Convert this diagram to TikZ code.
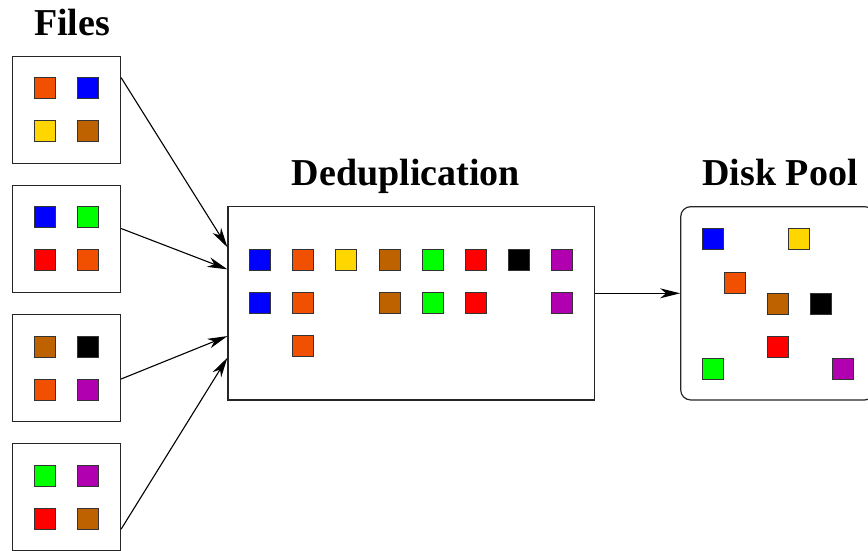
\documentclass[tikz,border=0pt]{standalone}
\usepackage{fontspec}
\setmainfont{Liberation Serif}
\usetikzlibrary{arrows.meta,positioning}

\definecolor{dorange}{RGB}{240,80,0}
\definecolor{dbrown}{RGB}{190,98,0}
\definecolor{gold}{RGB}{255,214,0}
\definecolor{purp}{RGB}{176,0,176}

\tikzset{
  blk/.style={draw=black!80,line width=1pt,minimum size=21pt,inner sep=0pt},
  box/.style={draw=black!85,line width=1.2pt,inner sep=0pt},
  title/.style={font=\fontsize{38}{40}\selectfont\bfseries,anchor=base,inner sep=0pt},
  flow/.style={-{Stealth[length=20pt,width=10pt,inset=6pt]},line width=1.1pt}
}

\begin{document}
\begin{tikzpicture}[x=1pt,y=-1pt]
  \clip (0,0) rectangle (868,550);
  % input files, four chunks each
  \foreach \cs [count=\i] in {{dorange,blue,gold,dbrown},{blue,green,red,dorange},
                              {dbrown,black,dorange,purp},{green,purp,red,dbrown}} {
    \node[box,minimum width=108pt,minimum height=107pt] (f\i) at (66.5,{109.7+129.2*(\i-1)}) {};
    \foreach \c [count=\j] in \cs
      \path (f\i) ++({43*mod(\j-1,2)-21.5},{43*int((\j-1)/2)-21.5}) node[blk,fill=\c] (f\i c\j) {};
  }
  \node[title] (files) at (72,35) {Files};

  % chunk store after dedup
  \node[box,minimum width=366.7pt,minimum height=193.3pt] (dedup) at (411.4,303.3) {};
  \node[title] (deduptitle) at (406,185) {Deduplication};
  \foreach \c [count=\k] in {blue,dorange,gold,dbrown,green,red,black,purp}
    \path (dedup.north west) ++({32.5+43.2*(\k-1)},54.3) node[blk,fill=\c] (d1c\k) {};
  \foreach \k/\r/\c in {1/2/blue,2/2/dorange,4/2/dbrown,5/2/green,6/2/red,8/2/purp,2/3/dorange}
    \path (dedup.north west) ++({32.5+43.2*(\k-1)},{54.3+43*(\r-2)+43}) node[blk,fill=\c] (d\r c\k) {};

  % unique chunks on disk
  \node[box,rounded corners=10pt,minimum width=194pt,minimum height=193.3pt] (pool) at (777.7,303.3) {};
  \node[title] (pooltitle) at (780,185) {Disk Pool};
  \foreach \px/\py/\c in {713/239/blue,799/239/gold,734.5/282.5/dorange,777.7/304/dbrown,
                          821/304/black,777.7/347/red,713/368.5/green,842.7/368.5/purp}
    \node[blk,fill=\c] (p\c) at (\px,\py) {};

  \draw[flow] ([yshift=-22pt]f1.north east) -- ([yshift=-41.3pt]dedup.north west);
  \draw[flow] ([yshift=-43.7pt]f2.north east) -- ([yshift=-63.3pt]dedup.north west);
  \draw[flow] ([yshift=-65pt]f3.north east) -- ([yshift=-130pt]dedup.north west);
  \draw[flow] ([yshift=-86pt]f4.north east) -- ([yshift=-151.6pt]dedup.north west);
  \draw[flow] ([yshift=10pt]dedup.east) -- ([yshift=10pt]pool.west);
\end{tikzpicture}
\end{document}
